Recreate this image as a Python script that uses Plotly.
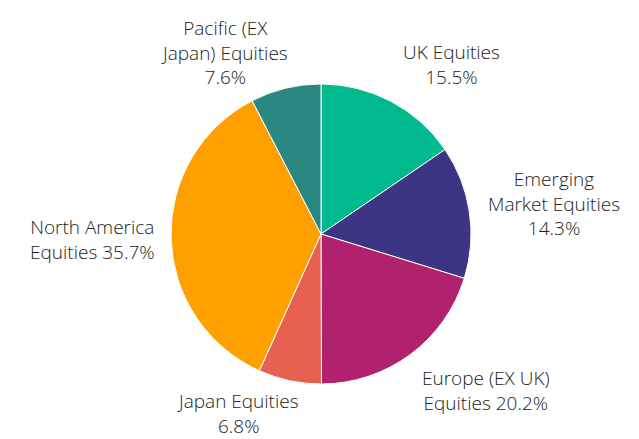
import math
import plotly.graph_objects as go

labels = ["UK Equities", "Emerging Market Equities", "Europe (EX UK) Equities",
          "Japan Equities", "North America Equities", "Pacific (EX Japan) Equities"]
label_text = ["UK Equities<br>15.5%", "Emerging<br>Market Equities<br>14.3%",
              "Europe (EX UK)<br>Equities 20.2%", "Japan Equities<br>6.8%",
              "North America<br>Equities 35.7%", "Pacific (EX<br>Japan) Equities<br>7.6%"]
values = [15.5, 14.3, 20.2, 6.8, 35.7, 7.6]
colors = ["#00B98E", "#3B3584", "#B0226E", "#E8604F", "#FFA000", "#2A8880"]

# layout-only pixel nudges for the outside labels (dx, dy; +dy = down)
label_nudge = [(2, 6), (0, -6), (0, -5), (14, -11), (3, 1), (8, 20)]

W, H = 639, 439
cx, cy, r = 321, 234, 150

fig = go.Figure(go.Pie(
    labels=labels, values=values, sort=False, direction="clockwise", rotation=0,
    marker=dict(colors=colors, line=dict(color="white", width=1)),
    textinfo="none", hoverinfo="label+percent", showlegend=False,
    domain=dict(x=[(cx - r) / W, (cx + r) / W], y=[(H - cy - r) / H, (H - cy + r) / H]),
))

total = sum(values)
cum = 0.0
annotations = []
for txt, v, (dx, dy) in zip(label_text, values, label_nudge):
    mid = (cum + v / 2) / total * 2 * math.pi
    cum += v
    s, c = math.sin(mid), math.cos(mid)
    R = r + 18
    px, py = cx + R * s, cy - R * c
    xa = "left" if s > 0.3 else ("right" if s < -0.1 else "center")
    ya = "bottom" if c > 0.3 else ("top" if c < -0.3 else "middle")
    annotations.append(dict(
        x=px / W, y=1 - py / H, xref="paper", yref="paper", text=txt,
        xshift=dx, yshift=-dy, borderpad=0,
        showarrow=False, xanchor=xa, yanchor=ya, align="center",
        font=dict(family="Open Sans", size=19, color="#222222", weight=300),
    ))

fig.update_layout(
    width=W, height=H, margin=dict(l=0, r=0, t=0, b=0),
    paper_bgcolor="white", plot_bgcolor="white", annotations=annotations,
)
fig.write_html("out.html", post_script="document.body.style.margin='0';",
               config={"displayModeBar": False})
